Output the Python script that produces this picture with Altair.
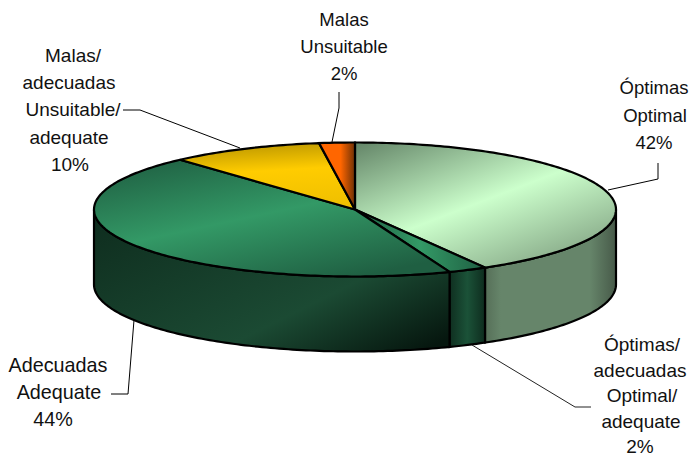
import math
import altair as alt
import pandas as pd

names = ["Óptimas", "Óptimas/adecuadas", "Adecuadas", "Malas/adecuadas", "Malas"]
shares = [41.7, 2.4, 44.2, 9.5, 2.2]

top_stops = [
    [(0, "#688a6c"), (0.5, "#ccffcc"), (1, "#7f9f80")],
    [(0, "#1f5f42"), (0.5, "#339966"), (1, "#1f5f42")],
    [(0, "#1f5f42"), (0.5, "#339966"), (1, "#1f5f42")],
    [(0, "#b89400"), (0.45, "#ffcc00"), (1, "#f0c000")],
    [(0, "#ff6600"), (0.6, "#ff6600"), (1, "#6e3005")],
]
top_dir = [(0.05, 0, 0.85, 1), (0, 0, 1, 0), (0.1, 0, 0.75, 1), (0.2, 0, 0.35, 1), (0, 0, 1, 0)]
side_stops = {
    0: [(0, "#566f58"), (0.12, "#66856a"), (0.8, "#66856a"), (1, "#475a49")],
    1: [(0, "#0f2f20"), (0.5, "#1b5238"), (1, "#0e2c1e")],
    2: [(0, "#0f2e1f"), (0.65, "#1b4a33"), (1, "#06170f")],
}

CX, CY, RX, RY, DEPTH = 355, 209.5, 261, 67, 75


def rim(t):
    a = math.radians(t)
    return CX + RX * math.sin(a), CY - RY * math.cos(a)


def arc(t0, t1):
    n = max(2, int(abs(t1 - t0)))
    return [rim(t0 + (t1 - t0) * i / n) for i in range(n + 1)]


def grad(stops, d):
    return alt.Gradient(
        gradient="linear", x1=d[0], y1=d[1], x2=d[2], y2=d[3],
        stops=[alt.GradientStop(offset=o, color=c) for o, c in stops],
    )


X = alt.X("x:Q", scale=alt.Scale(domain=[8, 689]), axis=None)
Y = alt.Y("y:Q", scale=alt.Scale(domain=[458, 8]), axis=None)


def poly(points, fill):
    df = pd.DataFrame(points, columns=["x", "y"]).reset_index(names="i")
    return alt.Chart(df).mark_line(
        fill=fill, stroke="#000000", strokeWidth=2.2, interpolate="linear-closed", clip=False
    ).encode(x=X, y=Y, order="i:Q")


def leader(points, color="#000000"):
    df = pd.DataFrame(points, columns=["x", "y"]).reset_index(names="i")
    return alt.Chart(df).mark_line(stroke=color, strokeWidth=1).encode(x=X, y=Y, order="i:Q")


def label(lines, xs, y0, step=27.2, size=18.5):
    df = pd.DataFrame({"t": lines, "x": xs, "y": [y0 + i * step for i in range(len(lines))]})
    return alt.Chart(df).mark_text(
        font="Liberation Sans", fontSize=size, color="#111111", baseline="alphabetic", align="center"
    ).encode(x=X, y=Y, text="t:N")


angles = [0]
for s in shares:
    angles.append(angles[-1] + s * 3.6)

layers = []
# side walls, visible only on the front half (90..270 degrees)
for i in range(3):
    a0, a1 = max(angles[i], 90), min(angles[i + 1], 270)
    front = arc(a0, a1)
    back = [(x, y + DEPTH) for x, y in reversed(front)]
    layers.append(poly(front + back, grad(side_stops[i], (0, 0, 1, 0) if i != 2 else (0, 0.1, 1, 0.9))))
# top faces
for i in range(5):
    layers.append(poly([(CX, CY)] + arc(angles[i], angles[i + 1]), grad(top_stops[i], top_dir[i])))

layers += [
    leader([(608, 190), (658, 179), (658, 163)]),
    leader([(472, 345), (575, 407), (591, 407)], "#222222"),
    leader([(134, 320), (128, 394), (111, 394)]),
    leader([(240, 148), (140, 110), (123, 110)]),
    leader([(332, 142), (339, 108), (339, 92)]),
    label(["Malas", "Unsuitable", "2%"], [344, 344, 344], 26),
    label(["Malas/", "adecuadas", "Unsuitable/", "adequate", "10%"], [73, 69, 73, 69, 70], 62, size=19),
    label(["Óptimas", "Optimal", "42%"], [654, 655, 654], 94, step=27.5),
    label(["Óptimas/", "adecuadas", "Optimal/", "adequate", "2%"], [642, 640, 642, 641, 640], 351, step=25.5, size=19),
    label(["Adecuadas", "Adequate", "44%"], [58, 59, 53], 372, size=19.8),
]

chart = alt.layer(*layers).properties(
    width=681, height=450, padding=0, autosize=alt.AutoSizeParams(type="none")
).configure_view(stroke=None)
chart.save("out.html", embed_options={"renderer": "svg", "actions": False})
